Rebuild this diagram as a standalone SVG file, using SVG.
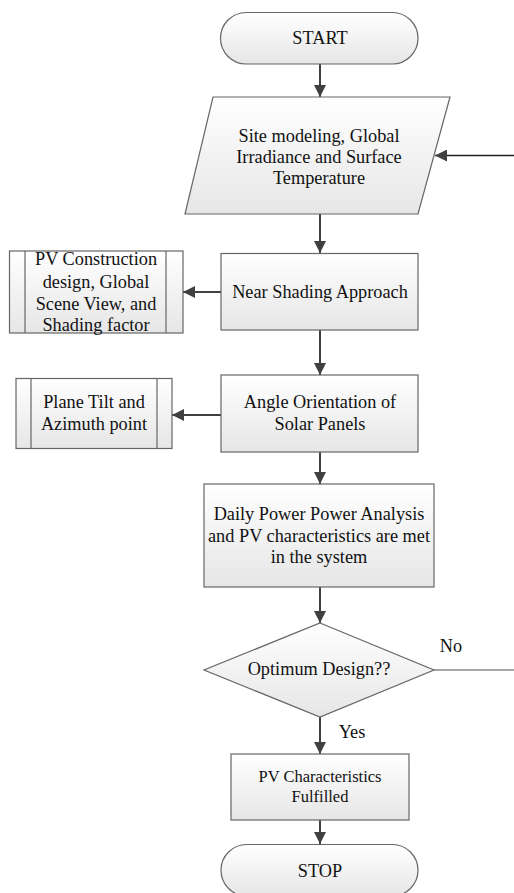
<svg xmlns="http://www.w3.org/2000/svg" width="514" height="893" viewBox="0 0 514 893">
<defs>
<linearGradient id="g" x1="0" y1="0" x2="0" y2="1">
<stop offset="0" stop-color="#ffffff"/>
<stop offset="1" stop-color="#e6e6e6"/>
</linearGradient>
<marker id="ahs" viewBox="0 0 10 10" refX="10" refY="5" markerWidth="12" markerHeight="12" markerUnits="userSpaceOnUse" orient="auto">
<path d="M0,0 L10,5 L0,10 Z" fill="#404040"/>
</marker>
</defs>
<style>
.n{fill:url(#g);stroke:#666;stroke-width:1.2}
.l{stroke:#666;stroke-width:1.2}
.t{font-family:"Liberation Serif",serif;font-size:18.3px;fill:#111;text-anchor:middle}
.s{font-size:16.5px}
.c{stroke:#404040;stroke-width:2;fill:none}
.c1{stroke:#222;stroke-width:1.3;fill:none}
.c2{stroke:#888;stroke-width:1.6;fill:none}
</style>
<g id="connectors">
<path class="c" d="M320,64 V97" marker-end="url(#ahs)"/>
<path class="c1" d="M514,155.5 H435" marker-end="url(#ahs)"/>
<path class="c" d="M320,214 V253" marker-end="url(#ahs)"/>
<path class="c" d="M221,292 H183" marker-end="url(#ahs)"/>
<path class="c" d="M320,330 V375" marker-end="url(#ahs)"/>
<path class="c" d="M221,415 H172" marker-end="url(#ahs)"/>
<path class="c" d="M320,452 V484" marker-end="url(#ahs)"/>
<path class="c" d="M320,587 V623" marker-end="url(#ahs)"/>
<path class="c2" d="M434,670 H514"/>
<path class="c" d="M320,717 V754" marker-end="url(#ahs)"/>
<path class="c" d="M320,820 V844" marker-end="url(#ahs)"/>
<text class="t" x="451" y="652">No</text>
<text class="t" x="352" y="738">Yes</text>
</g>
<g id="start">
<rect class="n" x="220.5" y="12.5" width="197.5" height="51.5" rx="25.75"/>
<text class="t" x="320" y="44">START</text>
</g>
<g id="site">
<path class="n" d="M213,97 H450 L418,214 H185 Z"/>
<text class="t" x="319" y="142">Site modeling, Global</text>
<text class="t" x="319" y="163">Irradiance and Surface</text>
<text class="t" x="319" y="184">Temperature</text>
</g>
<g id="near">
<rect class="n" x="221" y="253.5" width="197" height="76.5"/>
<text class="t" x="320" y="298">Near Shading Approach</text>
</g>
<g id="pvcons">
<rect class="n" x="9.5" y="251" width="173.5" height="82"/>
<line class="l" x1="25" y1="251" x2="25" y2="333"/>
<line class="l" x1="166" y1="251" x2="166" y2="333"/>
<text class="t" x="96" y="265">PV Construction</text>
<text class="t" x="96" y="288">design, Global</text>
<text class="t" x="96" y="310">Scene View, and</text>
<text class="t" x="96" y="331">Shading factor</text>
</g>
<g id="angle">
<rect class="n" x="221" y="375" width="197" height="77"/>
<text class="t" x="320" y="408">Angle Orientation of</text>
<text class="t" x="320" y="430">Solar Panels</text>
</g>
<g id="plane">
<rect class="n" x="16" y="378.5" width="156" height="70"/>
<line class="l" x1="31" y1="378.5" x2="31" y2="448.5"/>
<line class="l" x1="157" y1="378.5" x2="157" y2="448.5"/>
<text class="t" x="94" y="408">Plane Tilt and</text>
<text class="t" x="94" y="430">Azimuth point</text>
</g>
<g id="daily">
<rect class="n" x="204" y="484" width="230" height="103"/>
<text class="t" x="319" y="520">Daily Power Power Analysis</text>
<text class="t" x="319" y="542">and PV characteristics are met</text>
<text class="t" x="319" y="563">in the system</text>
</g>
<g id="decision">
<path class="n" d="M320,623 L434,670 L320,717 L204,670 Z"/>
<text class="t" x="319" y="675">Optimum Design??</text>
</g>
<g id="pvchar">
<rect class="n" x="231" y="754" width="178" height="66"/>
<text class="t s" x="320" y="782">PV Characteristics</text>
<text class="t s" x="320" y="802">Fulfilled</text>
</g>
<g id="stop">
<rect class="n" x="221" y="844.5" width="197" height="51.5" rx="25.75"/>
<text class="t" x="320" y="877">STOP</text>
</g>
</svg>
